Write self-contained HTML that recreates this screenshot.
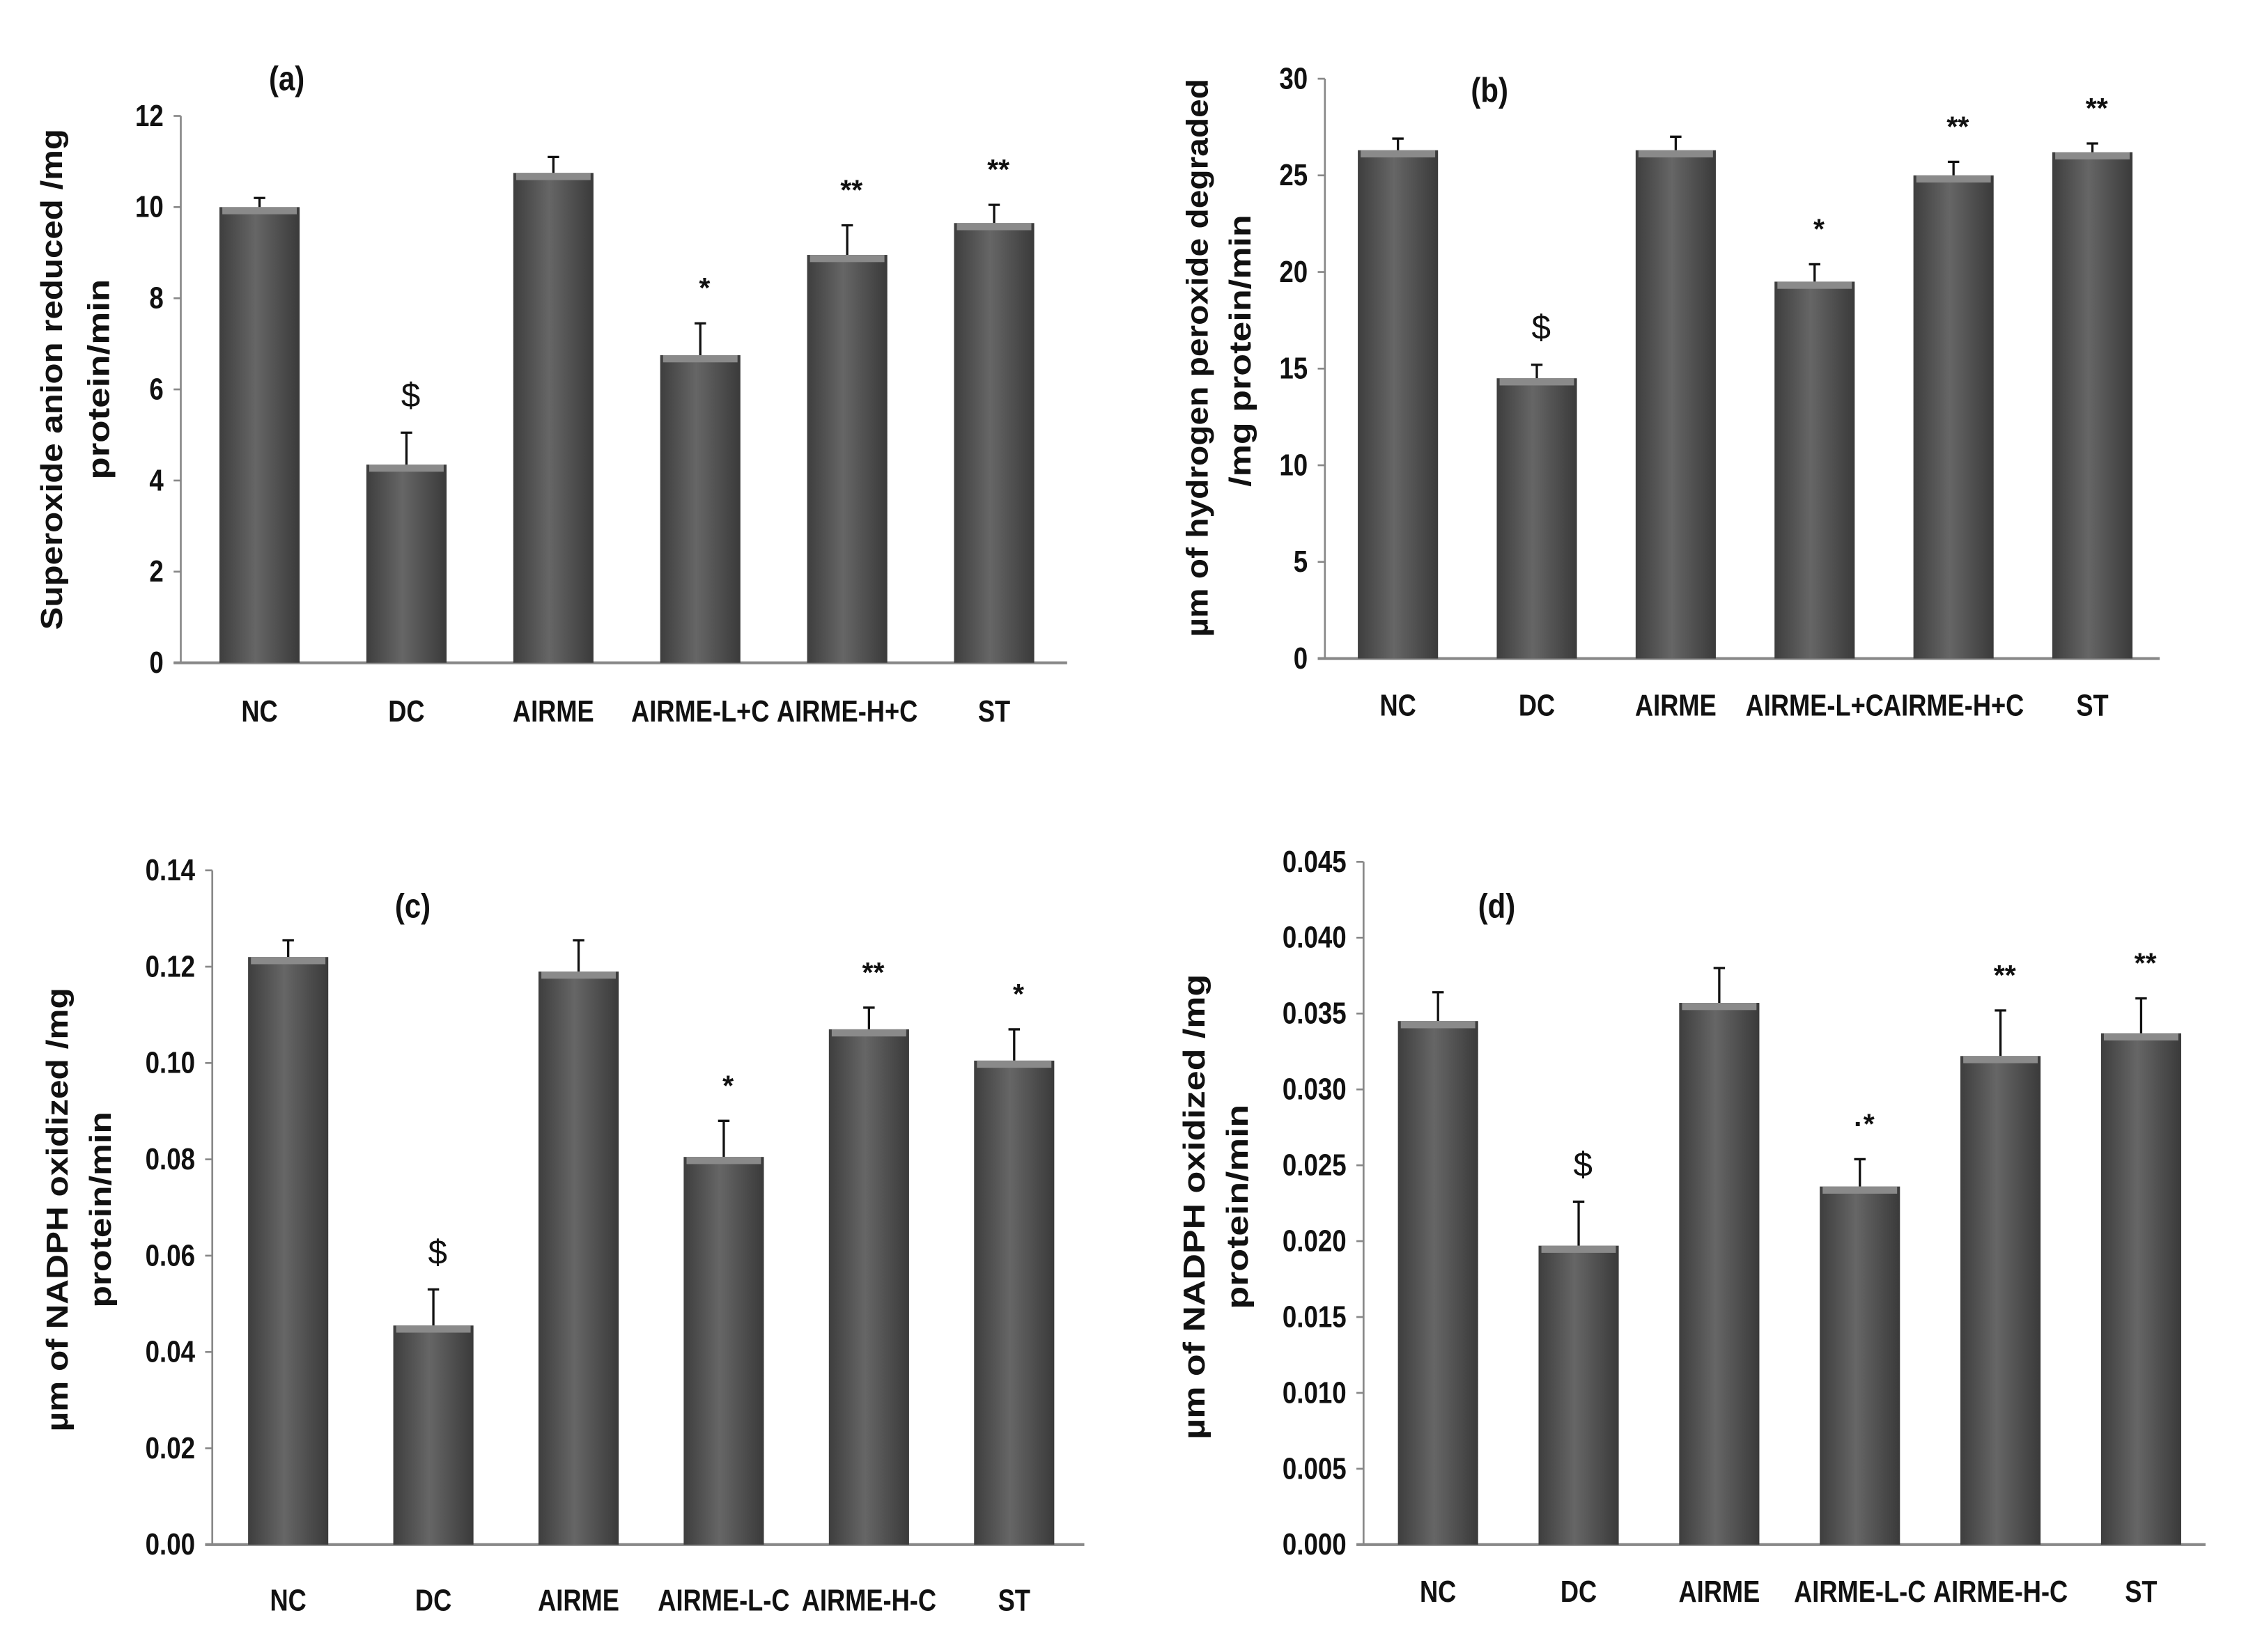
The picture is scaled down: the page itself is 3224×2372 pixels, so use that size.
<!DOCTYPE html>
<html><head><meta charset="utf-8"><style>
html,body{margin:0;padding:0;background:#fff;}
svg{display:block;}
text{font-family:"Liberation Sans Narrow","Liberation Sans",sans-serif;font-weight:bold;fill:#111;}
</style></head>
<body>
<svg id="fig" width="3224" height="2372" viewBox="0 0 1568 1154" xmlns="http://www.w3.org/2000/svg">
<defs>
<linearGradient id="barg" x1="0" x2="1" y1="0" y2="0">
<stop offset="0" stop-color="#3e3e3e"/><stop offset="0.45" stop-color="#666"/><stop offset="1" stop-color="#3a3a3a"/>
</linearGradient>
</defs>
</svg>
<script>
const categoriesA = ["NC","DC","AIRME","AIRME-L+C","AIRME-H+C","ST"];
const valuesA = [10, 4.35, 10.75, 6.75, 8.95, 9.65];
const errorsA = [0.2, 0.7, 0.35, 0.7, 0.65, 0.4];
const marksA = ["", "$", "", "*", "**", "**"];
const ticksA = ["0","2","4","6","8","10","12"];

const categoriesB = ["NC","DC","AIRME","AIRME-L+C","AIRME-H+C","ST"];
const valuesB = [26.3, 14.5, 26.3, 19.5, 25.0, 26.2];
const errorsB = [0.6, 0.7, 0.7, 0.9, 0.7, 0.45];
const marksB = ["", "$", "", "*", "**", "**"];
const ticksB = ["0","5","10","15","20","25","30"];

const categoriesC = ["NC","DC","AIRME","AIRME-L-C","AIRME-H-C","ST"];
const valuesC = [0.122, 0.0455, 0.119, 0.0805, 0.107, 0.1005];
const errorsC = [0.0035, 0.0075, 0.0065, 0.0075, 0.0045, 0.0065];
const marksC = ["", "$", "", "*", "**", "*"];
const ticksC = ["0.00","0.02","0.04","0.06","0.08","0.10","0.12","0.14"];

const categoriesD = ["NC","DC","AIRME","AIRME-L-C","AIRME-H-C","ST"];
const valuesD = [0.0345, 0.0197, 0.0357, 0.0236, 0.0322, 0.0337];
const errorsD = [0.0019, 0.0029, 0.0023, 0.0018, 0.0030, 0.0023];
const marksD = ["", "$", "", "·*", "**", "**"];
const ticksD = ["0.000","0.005","0.010","0.015","0.020","0.025","0.030","0.035","0.040","0.045"];

const NS = "http://www.w3.org/2000/svg";
const svg = document.getElementById("fig");
function mk(tag, attrs, parent){const e=document.createElementNS(NS,tag);for(const k in attrs)e.setAttribute(k,attrs[k]);(parent||svg).appendChild(e);return e;}
function condense(t,f){const w=t.getComputedTextLength();if(w>0){t.setAttribute("textLength",w*f);t.setAttribute("lengthAdjust","spacingAndGlyphs");}}

function panel(p){
  const g = mk("g",{});
  
  
  const tmax = parseFloat(p.ticks[p.ticks.length-1]);
  const y = v => p.y0 - (v/tmax)*(p.y0-p.yTop);
  const x = i => p.x1 + i*p.step;
  const ya = mk("line",{x1:p.ax,y1:p.yTop,x2:p.ax,y2:p.y0,stroke:"#888","stroke-width":1.3},g);
  
  
  const xa = mk("line",{x1:p.ax-5,y1:p.y0,x2:p.xEnd,y2:p.y0,stroke:"#888","stroke-width":2},g);
  
  
  p.ticks.forEach(t=>{
    const v=parseFloat(t), yy=y(v);
    mk("line",{x1:p.ax-5,y1:yy,x2:p.ax,y2:yy,stroke:"#888","stroke-width":1.3},g);
    const tx = mk("text",{x:p.ax-12,y:yy+7,"text-anchor":"end","font-size":21},g);
    tx.textContent=t;
    
    
    condense(tx,0.85);
  });
  p.values.forEach((v,i)=>{
    const cx=x(i), w=56, top=y(v);
    const eb = y(v+p.errors[i]);
    const el = mk("line",{x1:cx,y1:top,x2:cx,y2:eb,stroke:"#111","stroke-width":1.6},g);
    
    
    mk("line",{x1:cx-4,y1:eb,x2:cx+4,y2:eb,stroke:"#111","stroke-width":1.6},g);
    const r = mk("rect",{x:cx-w/2,y:top,width:w,height:p.y0-top,fill:"url(#barg)"},g);
    
    
    mk("rect",{x:cx-w/2+2,y:top,width:w-4,height:5,fill:"#8a8a8a"},g);
    if(p.marks[i]){
      const isD = p.marks[i]==="$";
      const m = mk("text",{x:cx+3,y:eb-18,"text-anchor":"middle","font-size":isD?24:20,fill:isD?"#555":"#111",style:isD?"font-weight:normal":""},g);
      m.textContent=p.marks[i];
      
      
    }
    const c = mk("text",{x:cx,y:p.catY,"text-anchor":"middle","font-size":21},g);
    c.textContent=p.cats[i];
    
    
    condense(c,0.84);
  });
  const ttl = mk("text",{x:p.tx,y:p.ty,"text-anchor":"middle","font-size":24},g);
  ttl.textContent=p.title;
  
  
  condense(ttl,0.85);
  p.ylab.forEach((s,k)=>{
    const t = mk("text",{x:0,y:0,"text-anchor":"middle","font-size":21,transform:`translate(${p.ylx[k]},${p.yly[k]}) rotate(-90)`,style:"font-family:'Liberation Sans',sans-serif",textLength:p.yll[k],lengthAdjust:"spacingAndGlyphs"},g);
    t.textContent=s;
    
    
  });
}
panel({id:"a",values:valuesA,errors:errorsA,marks:marksA,ticks:ticksA,cats:categoriesA,ax:126,y0:463,yTop:81,xEnd:745,x1:181,step:102.6,catY:504,title:"(a)",tx:200,ty:63,ylab:["Superoxide anion reduced /mg","protein/min"],ylx:[43,76],yly:[265,265],yll:[350,140]});
panel({id:"b",values:valuesB,errors:errorsB,marks:marksB,ticks:ticksB,cats:categoriesB,ax:925,y0:460,yTop:55,xEnd:1508,x1:976,step:97,catY:500,title:"(b)",tx:1040,ty:71,ylab:["µm of hydrogen peroxide degraded","/mg  protein/min"],ylx:[843,873],yly:[250,245],yll:[390,190]});
panel({id:"c",values:valuesC,errors:errorsC,marks:marksC,ticks:ticksC,cats:categoriesC,ax:148,y0:1079,yTop:608,xEnd:757,x1:201,step:101.4,catY:1125,title:"(c)",tx:288,ty:641,ylab:["µm of NADPH oxidized /mg","protein/min"],ylx:[47,77],yly:[845,845],yll:[310,137]});
panel({id:"d",values:valuesD,errors:errorsD,marks:marksD,ticks:ticksD,cats:categoriesD,ax:952,y0:1079,yTop:602,xEnd:1540,x1:1004,step:98.2,catY:1119,title:"(d)",tx:1045,ty:641,ylab:["µm of NADPH oxidized /mg","protein/min"],ylx:[841,871],yly:[843,843],yll:[325,143]});
</script>
</body></html>
